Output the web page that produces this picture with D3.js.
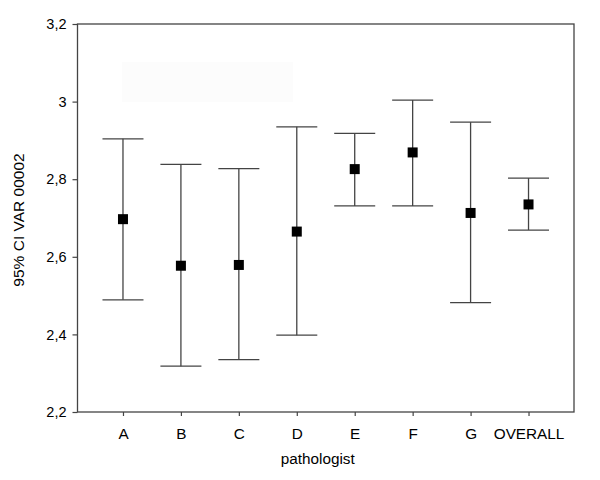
<!DOCTYPE html>
<html><head><meta charset="utf-8">
<script src="https://cdn.jsdelivr.net/npm/d3@7"></script>
<style>body{margin:0;background:#fff}svg{display:block}text{font-family:"Liberation Sans",Arial,sans-serif;fill:#000}</style>
</head><body>
<script>
const categories = ["A","B","C","D","E","F","G","OVERALL"];
const means = [2.697, 2.577, 2.579, 2.665, 2.826, 2.869, 2.713, 2.735];
const lower = [2.489, 2.318, 2.335, 2.398, 2.731, 2.731, 2.482, 2.669];
const upper = [2.904, 2.838, 2.827, 2.935, 2.918, 3.004, 2.947, 2.803];
const yTicks = [2.2, 2.4, 2.6, 2.8, 3.0, 3.2];
const xTitle = "pathologist";
const yTitle = "95% CI VAR 00002";

const W = 600, H = 480;
const m = {left: 77.5, right: 26, top: 24, bottom: 68};
const svg = d3.select("body").append("svg").attr("width", W).attr("height", H);

const x = d3.scalePoint().domain(categories).range([m.left, W - m.right]).padding(0.785);
const y = d3.scaleLinear().domain([2.2, 3.2]).range([H - m.bottom, m.top]);
const fmt = v => d3.format("~g")(v).replace(".", ",");

// faint artifact box
svg.append("rect").attr("x", 122).attr("y", 62).attr("width", 171).attr("height", 40).attr("fill", "#fcfcfc");

// frame
svg.append("rect").attr("x", m.left).attr("y", m.top)
  .attr("width", W - m.right - m.left).attr("height", H - m.bottom - m.top)
  .attr("fill", "none").attr("stroke", "#444").attr("stroke-width", 1.3);

const yAxis = svg.append("g").attr("transform", `translate(${m.left},0)`)
  .call(d3.axisLeft(y).tickValues(yTicks).tickFormat(fmt).tickSize(5).tickPadding(6));
yAxis.select(".domain").remove();
yAxis.selectAll("line").attr("stroke", "#444").attr("stroke-width", 1.2);
yAxis.selectAll("text").style("font-size", "14.5px").style("font-family", '"Liberation Sans",Arial,sans-serif').attr("fill", "#000");

const xAxis = svg.append("g").attr("transform", `translate(0,${H - m.bottom})`)
  .call(d3.axisBottom(x).tickSize(4).tickPadding(12));
xAxis.select(".domain").remove();
xAxis.selectAll("line").attr("stroke", "#444").attr("stroke-width", 1.2);
xAxis.selectAll("text").style("font-size", "15.3px").style("font-family", '"Liberation Sans",Arial,sans-serif').attr("fill", "#000");

svg.append("text").attr("x", (m.left + W - m.right) / 2 - 8).attr("y", 464)
  .attr("text-anchor", "middle").style("font-size", "15.3px").text(xTitle);
svg.append("text").attr("transform", `translate(24,220) rotate(-90)`)
  .attr("text-anchor", "middle").style("font-size", "15.5px").text(yTitle);

const cap = 20.5;
const g = svg.append("g").attr("stroke", "#444").attr("stroke-width", 1.3);
categories.forEach((c, i) => {
  const cx = x(c);
  g.append("line").attr("x1", cx).attr("x2", cx).attr("y1", y(lower[i])).attr("y2", y(upper[i]));
  g.append("line").attr("x1", cx - cap).attr("x2", cx + cap).attr("y1", y(upper[i])).attr("y2", y(upper[i]));
  g.append("line").attr("x1", cx - cap).attr("x2", cx + cap).attr("y1", y(lower[i])).attr("y2", y(lower[i]));
});
svg.selectAll("rect.pt").data(categories).enter().append("rect").attr("class", "pt")
  .attr("x", d => x(d) - 5).attr("y", (d, i) => y(means[i]) - 5)
  .attr("width", 10).attr("height", 10).attr("fill", "#000");
</script>
</body></html>
